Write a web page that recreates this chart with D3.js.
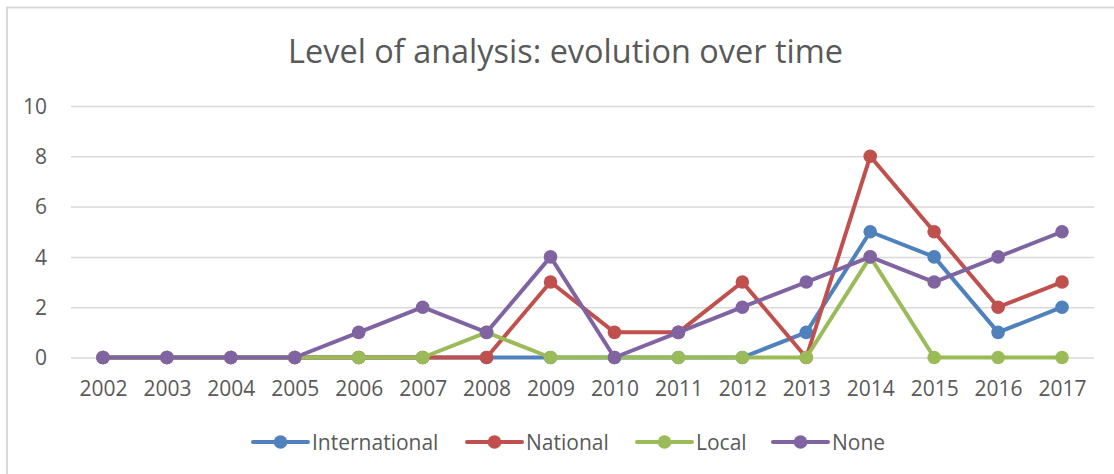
<!DOCTYPE html>
<html>
<head>
<meta charset="utf-8">
<script src="https://cdn.jsdelivr.net/npm/d3@7/dist/d3.min.js"></script>
<style>
  html, body { margin: 0; padding: 0; background: #fff; }
  svg { display: block; }
  text { font-family: "Open Sans", "Noto Sans", sans-serif; fill: #595959; }
</style>
</head>
<body>
<svg id="chart" width="1114" height="474"></svg>
<script>
const years = ["2002","2003","2004","2005","2006","2007","2008","2009","2010","2011","2012","2013","2014","2015","2016","2017"];
const international = [0,0,0,0,0,0,0,0,0,0,0,1,5,4,1,2];
const national      = [0,0,0,0,0,0,0,3,1,1,3,0,8,5,2,3];
const local         = [0,0,0,0,0,0,1,0,0,0,0,0,4,0,0,0];
const none          = [0,0,0,0,1,2,1,4,0,1,2,3,4,3,4,5];
const seriesNames = ["International","National","Local","None"];
const seriesColors = ["#4F81BD","#C0504D","#9BBB59","#8064A2"];
const yTicks = [0,2,4,6,8,10];
const titleText = "Level of analysis: evolution over time";

const seriesValues = [international, national, local, none];
const series = seriesNames.map((n,i)=>({name:n, color:seriesColors[i], values:seriesValues[i]}));

const svg = d3.select("#chart");

// outer frame (right/bottom edges lie outside the picture)
svg.append("rect").attr("x",7).attr("y",7.5).attr("width",1300).attr("height",700)
  .attr("fill","none").attr("stroke","#d9d9d9").attr("stroke-width",2);

const x = d3.scalePoint().domain(years).range([71,1094]).padding(0.5);
const y = d3.scaleLinear().domain([0,10]).range([357.5,106]);

// gridlines
const grid = svg.append("g").attr("transform","translate(71,0)")
  .call(d3.axisLeft(y).tickValues(yTicks).tickSize(-(1094-71)).tickFormat(""));
grid.select(".domain").remove();
grid.selectAll(".tick line").attr("stroke","#d9d9d9").attr("stroke-width",1.5);

// y axis labels
const yAx = svg.append("g").attr("transform","translate(47,0)")
  .call(d3.axisLeft(y).tickValues(yTicks).tickSize(0).tickPadding(0));
yAx.select(".domain").remove();
yAx.selectAll("text").attr("font-size",21).attr("fill","#595959")
  .style("font-family",'"Open Sans", sans-serif').attr("dy","0.35em");

// x axis labels
const xAx = svg.append("g").attr("transform","translate(0,380)")
  .call(d3.axisBottom(x).tickSize(0).tickPadding(0));
xAx.select(".domain").remove();
xAx.selectAll("text").attr("font-size",21).attr("fill","#595959")
  .style("font-family",'"Open Sans", sans-serif').attr("dy","0.75em");

// lines
const line = d3.line().x((d,i)=>x(years[i])).y(d=>y(d));
const sg = svg.append("g").selectAll("g").data(series).join("g");
sg.append("path").attr("d",d=>line(d.values)).attr("fill","none")
  .attr("stroke",d=>d.color).attr("stroke-width",4).attr("stroke-linejoin","round").attr("stroke-linecap","round");
sg.selectAll("circle").data(d=>d.values.map((v,i)=>({v,i,c:d.color}))).join("circle")
  .attr("cx",d=>x(years[d.i])).attr("cy",d=>y(d.v)).attr("r",6.8).attr("fill",d=>d.c);

// title
const title = svg.append("text").attr("x",0).attr("y",63).attr("font-size",33.5)
  .attr("text-anchor","middle").attr("fill","#595959").text(titleText);
const tw = title.node().getComputedTextLength();
const sx = 555 / tw;
title.attr("transform",`translate(565.5,0) scale(${sx},1)`);

// legend
const legendX = [253, 467, 637, 773];
const ly = 442;
const lg = svg.append("g").selectAll("g").data(series).join("g")
  .attr("transform",(d,i)=>`translate(${legendX[i]},${ly})`);
lg.append("line").attr("x1",0).attr("x2",55).attr("y1",0).attr("y2",0)
  .attr("stroke",d=>d.color).attr("stroke-width",4).attr("stroke-linecap","round");
lg.append("circle").attr("cx",27.5).attr("cy",0).attr("r",6.8).attr("fill",d=>d.color);
lg.append("text").attr("x",59).attr("y",0).attr("dy","0.36em").attr("font-size",21)
  .attr("fill","#595959").text(d=>d.name);
</script>
</body>
</html>
